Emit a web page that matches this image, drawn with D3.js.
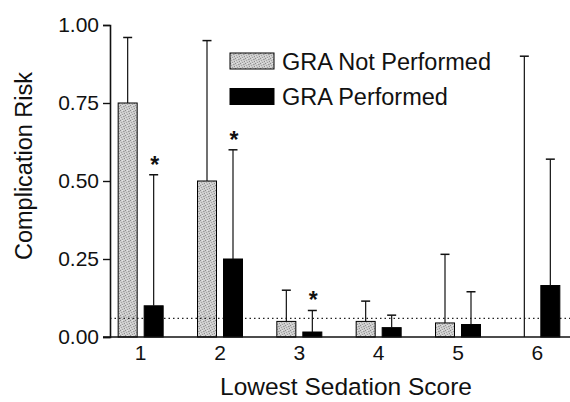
<!DOCTYPE html>
<html>
<head>
<meta charset="utf-8">
<script src="https://cdn.jsdelivr.net/npm/d3@7"></script>
<style>
  body { margin: 0; background: #fff; }
  #chart { width: 570px; height: 402px; }
  text { font-family: "Liberation Sans", Arial, sans-serif; fill: #111; }
</style>
</head>
<body>
<div id="chart"></div>
<script>
//Datos
const categories = [1, 2, 3, 4, 5, 6];
const seriesNames = ['GRA Not Performed', 'GRA Performed'];
const notPerformed = [0.75, 0.50, 0.05, 0.05, 0.045, 0];
const notPerformedUpper = [0.96, 0.95, 0.15, 0.115, 0.265, 0.90];
const performed = [0.10, 0.25, 0.016, 0.03, 0.04, 0.165];
const performedUpper = [0.52, 0.60, 0.085, 0.07, 0.145, 0.57];
const significant = [true, true, true, false, false, false];
const yTicks = [0, 0.25, 0.5, 0.75, 1];
const overallRisk = 0.06;

let margin = {top: 25, right: 0, bottom: 65, left: 110},
    width = 570 - margin.left - margin.right,
    height = 402 - margin.top - margin.bottom;

let svg = d3.select('#chart')
    .append('svg')
        .attr('width', 570)
        .attr('height', 402)
    .append('g')
        .attr('transform', 'translate(' + margin.left + ',' + margin.top + ')');

//Relleno punteado de las barras grises
let defs = svg.append('defs');
let pat = defs.append('pattern')
    .attr('id', 'stipple')
    .attr('width', 5)
    .attr('height', 5)
    .attr('patternUnits', 'userSpaceOnUse');
pat.append('rect').attr('width', 5).attr('height', 5).attr('fill', '#cdcdcd');
[[0, 0, '#8c8c8c'], [3, 1, '#9a9a9a'], [1, 2, '#a5a5a5'], [4, 3, '#8f8f8f'],
 [2, 4, '#9d9d9d'], [2, 0, '#e6e6e6'], [0, 3, '#e0e0e0'], [4, 1, '#b0b0b0']]
    .forEach(p => {
        pat.append('rect').attr('x', p[0]).attr('y', p[1]).attr('width', 1).attr('height', 1).attr('fill', p[2]);
    });

let x0 = d3.scaleBand()
    .domain(categories)
    .range([-9, width + 7]);

let x1 = d3.scaleBand()
    .domain(seriesNames)
    .range([x0.bandwidth() / 2 - 22.5, x0.bandwidth() / 2 + 22.5])
    .paddingInner(7 / 26);

let y = d3.scaleLinear()
    .domain([0, 1])
    .range([height, 0]);

let groups = [
    {name: seriesNames[0], values: notPerformed, upper: notPerformedUpper, fill: 'url(#stipple)'},
    {name: seriesNames[1], values: performed, upper: performedUpper, fill: '#000'}
];

function drawBars(s) {
    svg.append('g')
        .selectAll('rect')
        .data(categories.map((c, i) => ({c: c, v: s.values[i]})))
        .enter()
        .append('rect')
            .attr('x', d => x0(d.c) + x1(s.name))
            .attr('y', d => y(d.v))
            .attr('width', x1.bandwidth())
            .attr('height', d => y(0) - y(d.v))
            .attr('fill', s.fill)
            .attr('stroke', d => d.v > 0 ? '#000' : 'none')
            .attr('stroke-width', 1);
}

function drawErrors(s) {
    let g = svg.append('g');
    categories.forEach((c, i) => {
        let cx = x0(c) + x1(s.name) + x1.bandwidth() / 2;
        g.append('line')
            .attr('x1', cx).attr('x2', cx)
            .attr('y1', y(s.values[i])).attr('y2', y(s.upper[i]))
            .attr('stroke', '#111').attr('stroke-width', 1.2);
        g.append('line')
            .attr('x1', cx - 4.5).attr('x2', cx + 4.5)
            .attr('y1', y(s.upper[i])).attr('y2', y(s.upper[i]))
            .attr('stroke', '#111').attr('stroke-width', 1.5);
    });
}

drawBars(groups[0]);

//Linea de riesgo global
svg.append('line')
    .attr('x1', 0).attr('x2', width)
    .attr('y1', y(overallRisk)).attr('y2', y(overallRisk))
    .attr('stroke', '#222')
    .attr('stroke-width', 1.2)
    .attr('stroke-dasharray', '1.5,3');

drawBars(groups[1]);
drawErrors(groups[0]);
drawErrors(groups[1]);

//Asteriscos de significacion
svg.append('g')
    .selectAll('text')
    .data(categories.filter((c, i) => significant[i]))
    .enter()
    .append('text')
        .attr('x', d => x0(d) + x1(seriesNames[1]) + x1.bandwidth() / 2 + 1)
        .attr('y', d => y(performedUpper[categories.indexOf(d)]) - 2)
        .attr('text-anchor', 'middle')
        .style('font-size', '23px')
        .style('font-weight', 'bold')
        .text('*');

//Ejes
let yAxis = svg.append('g')
    .call(d3.axisLeft(y).tickValues(yTicks).tickFormat(d3.format('.2f')).tickSize(7).tickPadding(4));
yAxis.selectAll('text').style('font-size', '21px');

let xAxis = svg.append('g')
    .attr('transform', 'translate(0,' + height + ')')
    .call(d3.axisBottom(x0).tickSize(0).tickPadding(8));
xAxis.select('.domain').attr('d', 'M-7,0H' + width);
xAxis.selectAll('text').style('font-size', '21px');

svg.selectAll('.domain').attr('stroke', '#111').attr('stroke-width', 1.6);
svg.selectAll('.tick line').attr('stroke', '#111').attr('stroke-width', 1.4);

//Titulos de ejes
svg.append('text')
    .attr('x', 236)
    .attr('y', height + 58)
    .attr('text-anchor', 'middle')
    .style('font-size', '24.5px')
    .text('Lowest Sedation Score');

svg.append('text')
    .attr('transform', 'translate(' + (32 - margin.left) + ',' + (166 - margin.top) + ') rotate(-90)')
    .attr('text-anchor', 'middle')
    .style('font-size', '23.5px')
    .text('Complication Risk');

//Leyenda
let legend = svg.append('g')
    .attr('transform', 'translate(' + (230 - margin.left) + ',' + (53 - margin.top) + ')');

groups.forEach((s, i) => {
    legend.append('rect')
        .attr('x', 0)
        .attr('y', i * 35.5)
        .attr('width', 44)
        .attr('height', 16)
        .attr('fill', s.fill)
        .attr('stroke', '#000')
        .attr('stroke-width', 1);
    legend.append('text')
        .attr('x', 52)
        .attr('y', i * 35.5 + 16.5)
        .style('font-size', '23.5px')
        .text(s.name);
});
</script>
</body>
</html>
